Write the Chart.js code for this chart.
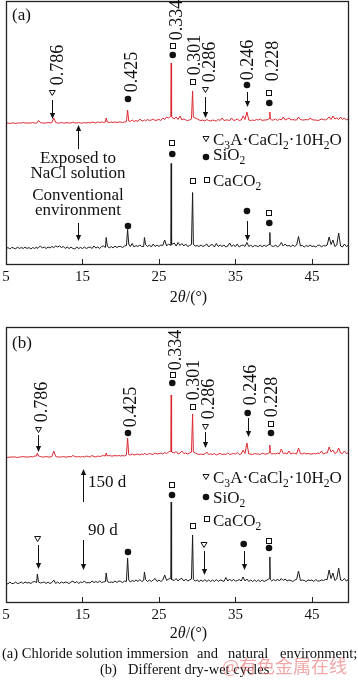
<!DOCTYPE html>
<html><head><meta charset="utf-8">
<script src="https://cdn.jsdelivr.net/npm/chart.js@4/dist/chart.umd.min.js"></script>
<style>
html,body{margin:0;padding:0;background:#fff;}
body{width:358px;height:680px;position:relative;overflow:hidden;font-family:'Liberation Serif','Times New Roman',serif;color:#111;}
canvas{position:absolute;left:0;}
#ca{top:0;} #cb{top:320px;}
.cap{position:absolute;font-size:14.5px;line-height:16px;white-space:pre;}
.wm{position:absolute;left:222px;top:654px;font-family:'Noto Sans CJK SC',sans-serif;font-size:18px;line-height:22px;color:rgba(230,95,95,0.55);white-space:pre;}
</style></head><body>
<canvas id="ca" width="358" height="310"></canvas>
<canvas id="cb" width="358" height="330"></canvas>
<div class="cap" style="left:2px;top:645px">(a) Chloride solution immersion</div>
<div class="cap" style="left:197px;top:645px">and</div>
<div class="cap" style="left:228px;top:645px">natural</div>
<div class="cap" style="left:280px;top:645px">environment;</div>
<div class="cap" style="left:100px;top:661px">(b)</div>
<div class="cap" style="left:128px;top:661px">Different dry-wet cycles</div>
<div class="wm">@有色金属在线</div>
<script>
// 2θ sampling positions (degrees)
const twoTheta = [
 5,5.25,5.5,5.75, 6,6.25,6.5,6.75, 7,7.25,7.5,7.75, 8,8.25,8.5,8.75,
 9,9.1,9.25,9.5,9.75, 10,10.25,10.5,10.75, 11,11.25,11.5,11.75, 12,12.25,12.5,12.75,
 13,13.25,13.5,13.75, 14,14.25,14.5,14.75, 15,15.25,15.5,15.75, 16,16.25,16.5,16.75,
 17,17.25,17.5,17.75, 18,18.1,18.25,18.5,18.75, 19,19.25,19.5,19.75,
 20,20.25,20.5,20.75,20.9, 21.05,21.25,21.5,21.75, 22,22.25,22.5,22.75,
 23,23.1,23.25,23.5,23.75, 24,24.25,24.5,24.75, 25,25.25,25.5,25.75,
 26,26.25,26.55,26.6,26.65, 27,27.25,27.5,27.75, 28,28.25,28.5,28.75,
 29,29.25,29.4,29.5,29.75, 30,30.25,30.5,30.75, 31,31.25,31.5,31.75,
 32,32.25,32.5,32.75, 33,33.25,33.5,33.75, 34,34.25,34.5,34.75, 35,35.25,35.5,35.75,
 36,36.25,36.5,36.75, 37,37.25,37.5,37.75, 38,38.25,38.5,38.75,
 39,39.25,39.45,39.5,39.55,39.75, 40,40.25,40.5,40.75, 41,41.25,41.5,41.75,
 42,42.25,42.5,42.75, 43,43.25,43.5,43.75, 44,44.25,44.5,44.75, 45,45.25,45.5,45.75,
 46,46.25,46.5,46.75, 47,47.25,47.5,47.75, 48,48.25,48.5,48.75, 49,49.25,49.5,49.75,49.85
];
// (a) exposed to NaCl solution (red)
const nacl = [
 2,2,1.5,2, 2,1.5,2,2, 2,2.5,2,2, 2,2,2.5,2,
 2,2.5,4.5,2.5,2, 2,2,2.5,2, 2.5,7,2.5,2, 2,2.5,2,2,
 2.5,2,2,3, 2,2,2.5,2, 2,2.5,2,2.5, 2,3,2.5,2,
 3,2.5,3,2.5, 3,7,3,2.5,3, 2.5,3,2.5,3,
 3,2.5,3,3.5,15, 4,3.5,5,3.5, 4.5,3.5,6,4,
 4.5,5,4,5.5,4.5, 5,6,4.5,5, 5.5,4.5,7,5.5,
 8,7,9,62,8, 6,8,5.5,9, 5,6,5,4.5,
 5,6,34,8,7, 6,5,4.5,5, 4,5.5,4.5,4,
 5,4.5,4,5.5, 4.5,7,4.5,5, 5,4.5,7,4.5, 5,6,4.5,5,
 9,5.5,13,5, 4.5,5,4.5,5.5, 5,6,4.5,5,
 5,5.5,6.5,13,6,5, 5,6,4.5,6, 5,8,5,6,
 7,5,5.5,5, 5,8,5.5,5, 5,5.5,5,7, 5.5,5,5,4.5,
 5,6,5.5,5, 6,8,5.5,9, 6,7,5.5,8, 5.5,7,5,6,5
];
// (a) conventional environment (black)
const conventional = [
 1.5,3,1.5,3, 2.5,1.5,3.5,2, 3,2,3.5,2, 3,1.5,3,2,
 3.5,2,3,4.5,2.5, 3.5,2,3.5,2.5, 4,3,4.5,3.5, 4.5,3,4,2,
 3.5,2,3.5,2, 1.5,3.5,2,3, 2,3.5,2,3, 3.5,2,4.5,2.5,
 3.5,2,4,4.5, 3,13,4.5,2.5,4, 2.5,4.5,3,4,
 4,3,4.5,5,21, 6.5,4,7,3.5, 5,4,5.5,4,
 4,13,6,4,5.5, 3.5,6.5,4,5.5, 4,5.5,5,10.5,
 4.5,6.5,5,87,6, 7.5,4.5,8,5, 7,4.5,6.5,4,
 5,6,58,6,4.5, 5,4,5.5,4, 5,6.5,3.5,5.5,
 6,3.5,7,4, 5.5,4,5.5,3.5, 4.5,7.5,4,5.5, 4,6.5,3.5,5,
 5.5,4,8,4, 5.5,3.5,5,4.5, 4,5.5,3.5,5.5,
 4,5.5,6,18,6,4.5, 4,5.5,3.5,5, 8,4.5,6.5,4.5,
 5,4,5.5,4, 5.5,14,4.5,5, 3.5,5,4,5.5, 4,4.5,3.5,5,
 5.5,3.5,5,4.5, 5.5,13.5,6,10.5, 4,5.5,17.5,4.5, 3.5,6.5,4,5,4
];
// (b) 150 d dry-wet cycles (red)
const cycles150 = [
 2,1.5,2,2, 2,2,1.5,2, 2,2.5,2,2, 2,2.5,2,3,
 3,6,3,2.5,2, 2,2.5,2,2, 2.5,8,2.5,2, 2,2,2.5,2,
 2,2.5,2,3.5, 2.5,2,2.5,2, 2.5,2,3,2.5, 2,3.5,2.5,2,
 3,2.5,3,3.5, 3,6,3,3.5,3, 3,3.5,3,3.5,
 3,3.5,3,4,21, 4.5,4,5,4, 4.5,5,4,5,
 4.5,5.5,5,4.5,5.5, 5,4.5,6,5, 5.5,6,5,6.5,
 5.5,7,8,64,7, 6,7.5,5,6, 8,5.5,6,5,
 6,7,45,7,6, 5,4.5,5,4.5, 5,7,4.5,5,
 4.5,5.5,4,5, 5.5,4.5,5,4.5, 6,4.5,5,5.5, 5,6.5,4.5,5,
 9,5.5,16,5, 5,4.5,5.5,5, 5,4.5,6,5,
 5,5.5,6.5,14,6,5, 5.5,5,6,5, 10,5.5,6,5,
 8,5,6,5.5, 5,11,5.5,5, 6,5,5.5,5, 5,5.5,5,6,
 5.5,8,5,6, 6,12,7,9, 5.5,6.5,11,6, 5.5,8,5.5,6,5.5
];
// (b) 90 d dry-wet cycles (black)
const cycles90 = [
 2.5,1.5,3.5,2, 2,3.5,2,2.5, 3.5,2,3.5,2.5, 3,2,3.5,4,
 3,11.5,3.5,2.5,3, 3.5,2,3.5,2, 3,5.5,2,3.5, 2,3.5,2.5,3.5,
 3,2,3.5,4.5, 2.5,4,2,3.5, 3,4.5,2.5,3, 2.5,4.5,3,4,
 3,4.5,3,3.5, 4,12.5,4,3,3.5, 3,4.5,3,4.5,
 4,3,4.5,4,27.5, 5.5,3.5,5,4, 5.5,4,6,4,
 5,13.5,6,4,5.5, 4,5.5,7,4, 5.5,4,5.5,10.5,
 5,6.5,7,83.5,6, 5,7,4.5,6.5, 7,4.5,6.5,4.5,
 5.5,6.5,50.5,6,4.5, 5.5,4,5.5,4, 6,4,5.5,4,
 5.5,4,6,4, 5.5,5,4,8, 4.5,6.5,4.5,6, 4.5,5,6,4.5,
 8.5,4.5,6.5,4, 5.5,4,5.5,4, 5.5,4,5.5,4,
 5,6,7,28.5,6,4.5, 6,4.5,6.5,4.5, 7,5,6.5,4.5,
 5.5,5,4,5.5, 6,14.5,5,5.5, 5,4,5.5,5, 5.5,4,6,4.5,
 4.5,5.5,5,6, 6,15.5,7,12.5, 5,6.5,17.5,5.5, 5,7,4.5,6,5
];
const tickValues = [5, 15, 25, 35, 45];
const tickLabels = ['5', '15', '25', '35', '45'];
const axisTitle = ['2', 'θ', '/(°)'];

// vertical stacking offsets of each pattern (display)
const offsets = { nacl: 140, conventional: 14.5, cycles150: 144, cycles90: 17.5 };

const SERIF = "'Liberation Serif','Times New Roman',serif";

const notesA = {
  label: ['(a)', 5.78, 245],
  titleGap: 37,
  dSpacing: [['0.786',12.45,200],['0.425',22.13,193],['0.334',28.01,245],['0.301',30.37,210],
             ['0.286',32.33,203],['0.246',37.30,205],['0.228',40.56,204]],
  marks: [['tri',11.05,172],['dot',20.95,166],['sq',26.8,219],['dot',26.8,210],['sq',29.45,183],
          ['tri',31.08,175],['dot',36.51,180],['sq',39.43,172],['dot',39.43,162],
          ['sq',26.74,122],['dot',26.74,111],['sq',29.45,84],['dot',20.95,39],['dot',36.51,54],
          ['sq',39.43,52],['dot',39.43,42],
          ['tri',31.15,126],['dot',31.15,108],['sq',31.24,85.5]],
  arrows: [[11.05,165,146],[31.08,168,147],[36.51,173,158],[14.37,116,140],[14.41,42,24],[36.51,44,24]],
  texts: [['Exposed to',14.41,102,'center'],['NaCl solution',14.41,87,'center'],
          ['Conventional',14.41,65,'center'],['environment',14.41,50,'center'],
          ['C_3A·CaCl_2·10H_2O',32.07,120,'left'],['SiO_2',32.07,105,'left'],['CaCO_2',32.07,79,'left']]
};
const notesB = {
  label: ['(b)', 5.78, 255],
  titleGap: 35,
  dSpacing: [['0.786',10.36,201],['0.425',22.0,196],['0.334',27.88,253],['0.301',30.23,223],
             ['0.286',32.2,204],['0.246',37.69,218],['0.228',40.43,206]],
  marks: [['tri',9.25,173],['dot',20.95,170],['sq',26.8,228],['dot',26.74,220],['sq',29.45,196],
          ['tri',31.08,176],['dot',36.6,190],['sq',39.65,179],['dot',39.65,170],
          ['sq',26.71,118],['dot',26.71,108],['sq',29.45,77],['dot',20.95,51],['tri',9.14,64],
          ['tri',30.89,58],['dot',36.08,59],['sq',39.39,62],['dot',39.39,55],
          ['tri',31.15,126],['dot',31.15,106],['sq',31.24,84]],
  arrows: [[9.14,168,151],[31.02,171,155],[36.6,185,166],[15.07,101,134],[15.07,63,33],
           [9.14,58,34],[30.89,52,28],[36.08,52,33]],
  texts: [['150 d',15.72,116,'left'],['90 d',15.72,68,'left'],
          ['C_3A·CaCl_2·10H_2O',32.07,120,'left'],['SiO_2',32.07,100,'left'],['CaCO_2',32.07,77,'left']]
};

function drawRich(ctx, str, x, y, size, align) {
  const parts = str.split(/(_\d)/).filter(s => s.length);
  const segs = parts.map(p => p[0] === '_' ? [p.slice(1), true] : [p, false]);
  let w = 0;
  for (const [t, sub] of segs) { ctx.font = (sub ? size * 0.68 : size) + 'px ' + SERIF; w += ctx.measureText(t).width; }
  let cx = align === 'center' ? x - w / 2 : x;
  ctx.textAlign = 'left'; ctx.textBaseline = 'alphabetic';
  for (const [t, sub] of segs) {
    ctx.font = (sub ? size * 0.68 : size) + 'px ' + SERIF;
    ctx.fillText(t, cx, sub ? y + size * 0.22 : y);
    cx += ctx.measureText(t).width;
  }
}
function drawMark(ctx, type, x, y) {
  ctx.save();
  ctx.lineWidth = 1; ctx.strokeStyle = '#111'; ctx.fillStyle = '#111';
  if (type === 'dot') { ctx.beginPath(); ctx.arc(x, y, 3.3, 0, Math.PI * 2); ctx.fill(); }
  else if (type === 'sq') { const rx = Math.round(x), ry = Math.round(y); ctx.strokeRect(rx - 2.5, ry - 2.5, 5, 5); }
  else { ctx.beginPath(); ctx.moveTo(x - 3, y - 2.5); ctx.lineTo(x + 3, y - 2.5); ctx.lineTo(x, y + 2.5); ctx.closePath(); ctx.stroke(); }
  ctx.restore();
}
function drawArrow(ctx, x, y0, y1) {
  const px = Math.round(x) + 0.5, dir = y1 > y0 ? 1 : -1;
  ctx.save(); ctx.strokeStyle = '#111'; ctx.fillStyle = '#111'; ctx.lineWidth = 1;
  ctx.beginPath(); ctx.moveTo(px, y0); ctx.lineTo(px, y1 - dir * 5); ctx.stroke();
  ctx.beginPath(); ctx.moveTo(px, y1); ctx.lineTo(px - 2.6, y1 - dir * 6); ctx.lineTo(px + 2.6, y1 - dir * 6); ctx.closePath(); ctx.fill();
  ctx.restore();
}

const decor = {
  id: 'decor',
  afterDraw(chart, args, opts) {
    const { ctx, chartArea: a, scales: { x, y } } = chart;
    const n = opts.notes;
    const X = t => x.getPixelForValue(t), Y = v => y.getPixelForValue(v);
    ctx.save();
    ctx.strokeStyle = '#222'; ctx.lineWidth = 1.3;
    ctx.strokeRect(a.left + 0.5, a.top + 0.5, a.right - a.left - 1, a.bottom - a.top - 1);
    ctx.lineWidth = 1;
    for (const t of tickValues) {
      if (t === x.min) continue;
      const px = Math.round(X(t)) + 0.5;
      ctx.beginPath(); ctx.moveTo(px, a.bottom); ctx.lineTo(px, a.bottom - 6); ctx.stroke();
    }
    ctx.fillStyle = '#111';
    // axis title with italic theta
    const fs = 16;
    const fonts = [fs + 'px ' + SERIF, 'italic ' + fs + 'px ' + SERIF, fs + 'px ' + SERIF];
    let tw = 0;
    axisTitle.forEach((s, i) => { ctx.font = fonts[i]; tw += ctx.measureText(s).width; });
    let tx = (a.left + a.right) / 2 + 11 - tw / 2;
    const ty = a.bottom + n.titleGap;
    ctx.textAlign = 'left'; ctx.textBaseline = 'alphabetic';
    axisTitle.forEach((s, i) => { ctx.font = fonts[i]; ctx.fillText(s, tx, ty); tx += ctx.measureText(s).width; });
    // panel label
    ctx.font = '17px ' + SERIF;
    ctx.fillText(n.label[0], X(n.label[1]), Y(n.label[2]));
    // d-spacings
    ctx.font = '18px ' + SERIF;
    for (const [t, th, v] of n.dSpacing) {
      ctx.save(); ctx.translate(X(th), Y(v)); ctx.rotate(-Math.PI / 2);
      ctx.textAlign = 'center'; ctx.textBaseline = 'alphabetic'; ctx.fillText(t, 0, 0); ctx.restore();
    }
    for (const [type, th, v] of n.marks) drawMark(ctx, type, X(th), Y(v));
    for (const [th, v0, v1] of n.arrows) drawArrow(ctx, X(th), Y(v0), Y(v1));
    for (const [t, th, v, al] of n.texts) drawRich(ctx, t, X(th), Y(v), 17, al);
    ctx.restore();
  }
};

function series(vals, off) { return twoTheta.map((t, i) => ({ x: t, y: vals[i] + off })); }

function makeChart(id, red, black, ymax, pad, notes) {
  return new Chart(document.getElementById(id), {
    type: 'line',
    data: { datasets: [
      { data: red, borderColor: 'rgb(220,40,48)', borderWidth: 1, pointRadius: 0, tension: 0 },
      { data: black, borderColor: '#1a1a1a', borderWidth: 1, pointRadius: 0, tension: 0 }
    ] },
    options: {
      responsive: false, animation: false, devicePixelRatio: 1,
      layout: { padding: pad },
      plugins: { legend: { display: false }, tooltip: { enabled: false }, decor: { notes } },
      scales: {
        x: { type: 'linear', min: 5, max: 49.85,
             grid: { display: false, drawTicks: false }, border: { display: false },
             afterBuildTicks: s => { s.ticks = tickValues.map(v => ({ value: v })); },
             afterFit: s => { s.height = 45; s.paddingLeft = 0; s.paddingRight = 0; },
             ticks: { color: '#111', padding: 3, autoSkip: false, maxRotation: 0,
                      font: { family: SERIF, size: 15 },
                      callback: v => tickLabels[tickValues.indexOf(v)] } },
        y: { display: false, min: 0, max: ymax }
      }
    },
    plugins: [decor]
  });
}

makeChart('ca', series(nacl, offsets.nacl), series(conventional, offsets.conventional), 264,
  { left: 6, right: 9, top: 1, bottom: 0 }, notesA);
makeChart('cb', series(cycles150, offsets.cycles150), series(cycles90, offsets.cycles90), 276,
  { left: 6, right: 9, top: 7, bottom: 2 }, notesB);
</script>
</body></html>
